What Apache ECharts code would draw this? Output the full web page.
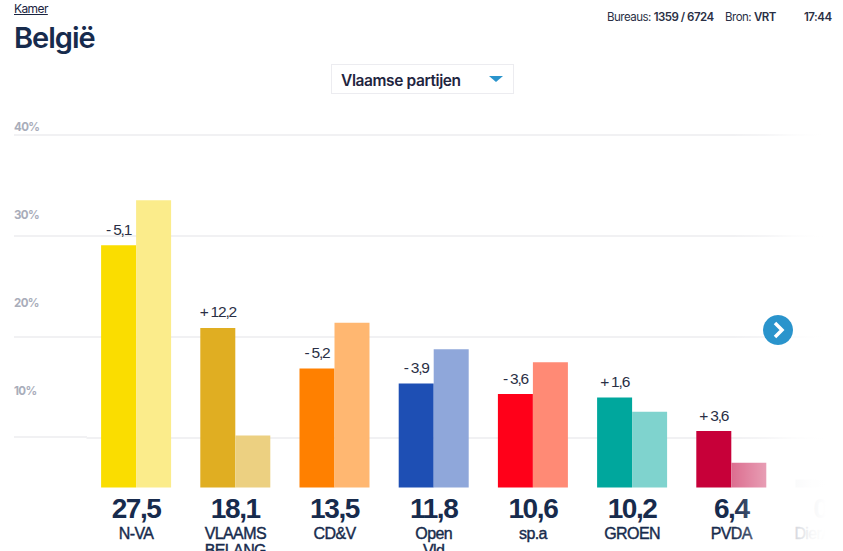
<!DOCTYPE html>
<html>
<head>
<meta charset="utf-8">
<script src="https://cdn.jsdelivr.net/npm/echarts@6/dist/echarts.min.js"></script>
<style>
html,body{margin:0;padding:0;width:843px;height:551px;overflow:hidden;background:#fff;font-family:"Liberation Sans",sans-serif;color:#172b4d;}
#chart{position:absolute;left:0;top:0;width:843px;height:551px;}
#chart svg text{letter-spacing:-0.6px;}
#chart svg text[style*="28px"]{letter-spacing:-1.4px;}
#chart svg text[style*="15.5px"]{letter-spacing:-1.2px;}
.kamer{position:absolute;left:14px;top:1px;font:12px Inter,sans-serif;letter-spacing:-0.6px;text-decoration:underline;color:#1a2440;}
.titel{position:absolute;left:14px;top:21px;font:600 29px/34px Inter,sans-serif;letter-spacing:-1px;color:#172b4d;}
.meta{position:absolute;top:10px;font:11.5px/14px Inter,sans-serif;letter-spacing:-0.5px;color:#2a2f45;white-space:nowrap;}
.meta b{font-weight:600;}
.keuze{position:absolute;left:331px;top:64px;width:181px;height:28px;border:1px solid #ececf0;font:600 15.5px/31px Inter,sans-serif;letter-spacing:-0.4px;color:#1f2540;}
.keuze span{position:absolute;left:9px;top:0;}
.keuze i{position:absolute;left:157px;top:11px;width:0;height:0;border-left:7px solid transparent;border-right:7px solid transparent;border-top:6px solid #2a94cc;}
</style>
</head>
<body>
<div id="chart"></div>
<div class="kamer">Kamer</div>
<div class="titel">België</div>
<div class="meta" style="left:607px">Bureaus: <b>1359 / 6724</b></div>
<div class="meta" style="left:725px">Bron: <b>VRT</b></div>
<div class="meta" style="left:804px"><b>17:44</b></div>
<div class="keuze"><span>Vlaamse partijen</span><i></i></div>
<script>
//partijen en resultaten
var partijen = ["N-VA","VLAAMS\nBELANG","CD&V","Open\nVld","sp.a","GROEN","PVDA","DierAnimal"];
var uitslag = [27.5,18.1,13.5,11.8,10.6,10.2,6.4,0.9];
var vorige = [32.6,5.9,18.7,15.7,14.2,8.6,2.8,0];
var verschil = ["- 5,1","+ 12,2","- 5,2","- 3,9","- 3,6","+ 1,6","+ 3,6",""];
var kleurNu = ["#fadd00","#e0ae22","#ff8000","#1e4fb4","#ff0019","#00a79d","#c70039","#e4e6ea"];
var kleurVorig = ["#fbec8b","#ecd081","#ffb771","#8fa7da","#ff8a75","#7fd3ce","#dc6d8f","#e4e6ea"];
var yTicks = [10,20,30,40];
//achtergrondlijnen, staan niet op de schaal van de labels
var lijnen = [40,28.55,17.1,5.7];

function komma(v)
{
	return String(v).replace(".",",");
}

function kleurData(waarden,kleuren)
{
	return waarden.map(function(v,i){
		return {value:v,itemStyle:{color:kleuren[i]}};
	});
}

var myChart = echarts.init(document.getElementById('chart'),null,{renderer:'svg'});

var option = {
	animation:false,
	backgroundColor:'#fff',
	grid:{left:86.5,top:135,width:793.6,height:352.5,outerBoundsMode:'none'},
	xAxis:{
		type:'category',
		data:partijen,
		axisLine:{show:false},
		axisTick:{show:false},
		axisLabel:{
			interval:0,
			margin:4,
			hideOverlap:false,
			formatter:function(naam,i){
				var regels = naam.split("\n").map(function(r){return '{n|'+r+'}';}).join("\n");
				return '{v|'+komma(uitslag[i])+'}\n'+regels;
			},
			rich:{
				v:{fontFamily:'Liberation Sans',fontSize:28,fontWeight:'bold',color:'#172b4d',lineHeight:33,align:'center'},
				n:{fontFamily:'Liberation Sans',fontSize:16,color:'#172b4d',lineHeight:17,align:'center',textBorderColor:'#172b4d',textBorderWidth:0.4}
			}
		}
	},
	yAxis:{
		type:'value',
		min:0,
		max:40,
		interval:10,
		splitLine:{show:false},
		axisLine:{show:false},
		axisTick:{show:false},
		axisLabel:{
			customValues:yTicks,
			formatter:'{value}%',
			align:'left',
			verticalAlign:'bottom',
			margin:72.5,
			padding:[0,0,2,0],
			fontFamily:'Inter',
			fontWeight:'bold',
			fontSize:11.5,
			color:'#a9adba'
		}
	},
	series:[
		{
			name:'2019',
			type:'bar',
			barWidth:35,
			barGap:'0%',
			data:kleurData(uitslag,kleurNu),
			label:{
				show:true,
				position:'top',
				distance:8,
				fontFamily:'Liberation Sans',
				fontSize:15.5,
				color:'#2a2f45',
				formatter:function(p){return verschil[p.dataIndex];}
			},
			markLine:{
				silent:true,
				symbol:'none',
				z:0,
				label:{show:false},
				emphasis:{disabled:true},
				lineStyle:{color:'#f1f1f3',width:2,type:'solid'},
				data:lijnen.map(function(v){return {yAxis:v};})
			}
		},
		{
			name:'2014',
			type:'bar',
			barWidth:35,
			data:kleurData(vorige,kleurVorig)
		}
	]
};

myChart.setOption(option);

//lijnen lopen links door tot onder de labels, rechts vervaagt alles
var extra = lijnen.map(function(v){
	var y = Math.round(myChart.convertToPixel({yAxisIndex:0},v));
	return {type:'line',z:0,shape:{x1:14,y1:y,x2:87,y2:y},style:{stroke:'#f1f1f3',lineWidth:2}};
});
extra.push({
	type:'rect',z:50,
	shape:{x:731,y:100,width:112,height:451},
	style:{fill:new echarts.graphic.LinearGradient(0,0,1,0,[
		{offset:0,color:'rgba(255,255,255,0)'},
		{offset:0.31,color:'rgba(255,255,255,0.33)'},
		{offset:0.56,color:'rgba(255,255,255,0.8)'},
		{offset:0.72,color:'rgba(255,255,255,0.96)'},
		{offset:0.85,color:'rgba(255,255,255,1)'},
		{offset:1,color:'rgba(255,255,255,1)'}
	])}
});
//pijltje
extra.push({type:'circle',z:60,shape:{cx:778,cy:330,r:15},style:{fill:'#2a94cc'}});
extra.push({type:'polyline',z:61,shape:{points:[[775,323],[782,330],[775,337]]},style:{stroke:'#fff',lineWidth:3.5,fill:null}});
myChart.setOption({graphic:extra});
</script>
</body>
</html>
